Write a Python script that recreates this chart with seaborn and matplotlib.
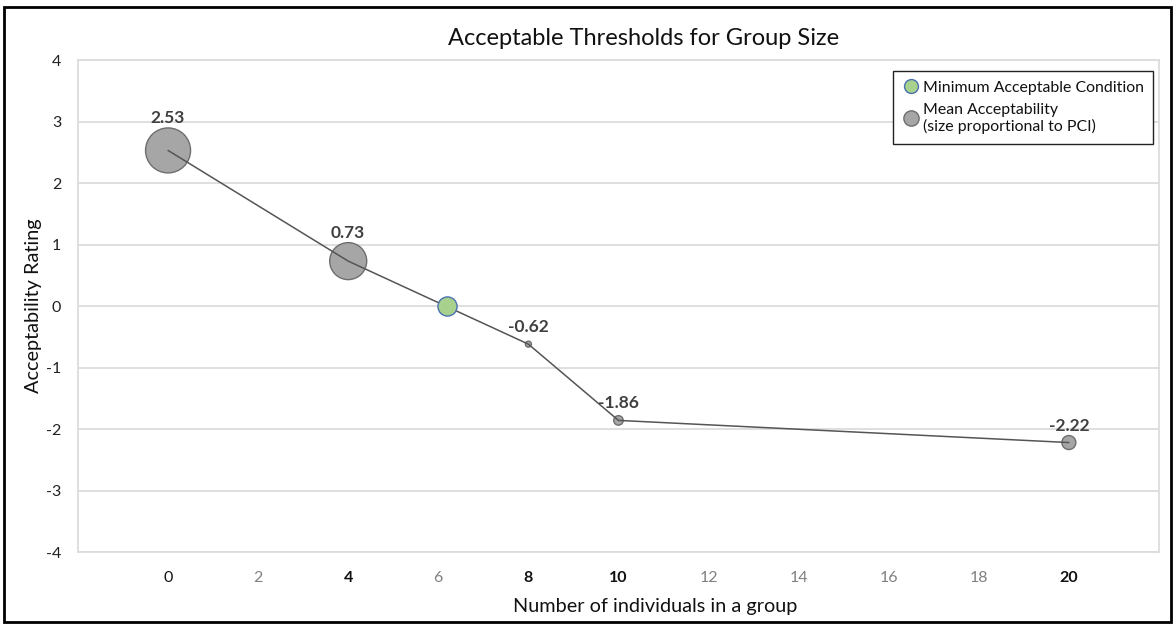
import numpy as np
import pandas as pd
import matplotlib
matplotlib.use("Agg")
import matplotlib.pyplot as plt
from matplotlib.lines import Line2D
from matplotlib.patches import Rectangle
import seaborn as sns

# Mean acceptability by group size, bubble size proportional to PCI
group_size = [0, 4, 8, 10, 20]
mean_rating = [2.53, 0.73, -0.62, -1.86, -2.22]
pci = [0.45, 0.37, 0.06, 0.095, 0.14]

# Point where the mean rating crosses zero
threshold_size = [6.2]
threshold_rating = [0.0]

x_ticks = [0, 2, 4, 6, 8, 10, 12, 14, 16, 18, 20]
y_ticks = [-4, -3, -2, -1, 0, 1, 2, 3, 4]

title = "Acceptable Thresholds for Group Size"
x_label = "Number of individuals in a group"
y_label = "Acceptability Rating"
legend_labels = ["Minimum Acceptable Condition",
                 "Mean Acceptability\n(size proportional to PCI)"]

sns.set_theme(style="white")
plt.rcParams["font.family"] = ["Lato", "DejaVu Sans"]

DPI = 100
fig = plt.figure(figsize=(11.76, 6.29), dpi=DPI)
ax = fig.add_axes([0.0663, 0.1224, 0.9192, 0.7822])

df = pd.DataFrame({"size": group_size, "rating": mean_rating, "pci": pci})
PT_PER_PCI = 72.0  # bubble diameter in points per unit of PCI
df["area"] = (df["pci"] * PT_PER_PCI) ** 2
amin, amax = df["area"].min(), df["area"].max()

bubble_face = "#a6a6a6"
bubble_edge = "#6e6e6e"
line_color = "#555555"

sns.scatterplot(data=df, x="size", y="rating", size="area",
                sizes=(amin, amax), size_norm=(amin, amax), legend=False,
                color=bubble_face, edgecolor=bubble_edge, linewidth=1.0,
                ax=ax, zorder=3)
sns.lineplot(data=df, x="size", y="rating", color=line_color, linewidth=1.1,
             ax=ax, zorder=4, sort=False)

thr = pd.DataFrame({"size": threshold_size, "rating": threshold_rating})
sns.scatterplot(data=thr, x="size", y="rating", s=190, color="#a9d18e",
                edgecolor="#4a72b0", linewidth=1.0, ax=ax, zorder=5,
                legend=False)

# Value labels above each bubble
for xv, yv, area in zip(df["size"], df["rating"], df["area"]):
    radius_pt = np.sqrt(area) / 2
    off = max(radius_pt, 5.0) + 7.2
    ax.annotate(f"{yv:.2f}", (xv, yv), xytext=(0, off),
                textcoords="offset points", ha="center", va="center",
                fontsize=12.5, fontweight="bold", color="#404040", zorder=6)

ax.set_xlim(-2, 22)
ax.set_ylim(-4, 4)
ax.set_xticks(x_ticks)
ax.set_xticklabels([str(t) for t in x_ticks])
ax.set_yticks(y_ticks)
ax.set_yticklabels([str(t) for t in y_ticks])

bold_ticks = {4, 8, 10, 20}
dark_ticks = {0, 4, 8, 10, 20}
for t, lab in zip(x_ticks, ax.get_xticklabels()):
    lab.set_fontweight("bold" if t in bold_ticks else "normal")
    lab.set_color("#111111" if t in dark_ticks else "#808080")
    lab.set_fontsize(11.5)
for lab in ax.get_yticklabels():
    lab.set_color("#222222")
    lab.set_fontsize(11.5)

ax.tick_params(axis="x", length=0, pad=14)
ax.tick_params(axis="y", length=0, pad=12)

ax.grid(axis="y", color="#dcdcdc", linewidth=1.3)
for sp in ax.spines.values():
    sp.set_visible(True)
    sp.set_color("#dcdcdc")
    sp.set_linewidth(1.3)

ax.set_xlabel(x_label, fontsize=14.3, color="#111111")
ax.set_ylabel(y_label, fontsize=14.3, color="#111111")
ax.xaxis.set_label_coords(0.534, -0.093)
ax.yaxis.set_label_coords(-0.033, 0.5)
ax.set_title(title, fontsize=17, color="#111111", x=0.523, pad=11)

handles = [
    Line2D([], [], marker="o", linestyle="none", markersize=10,
           markerfacecolor="#a9d18e", markeredgecolor="#4a72b0",
           markeredgewidth=1.0),
    Line2D([], [], marker="o", linestyle="none", markersize=11,
           markerfacecolor=bubble_face, markeredgecolor=bubble_edge,
           markeredgewidth=1.0),
]
leg = ax.legend(handles, legend_labels, loc="upper right",
                bbox_to_anchor=(0.9945, 0.9776), fontsize=11.4,
                frameon=True, fancybox=False, framealpha=1,
                edgecolor="#222222", borderpad=0.6, handletextpad=0.25,
                handlelength=1.0, labelspacing=0.5, borderaxespad=0)
leg.get_frame().set_linewidth(1.0)
for txt in leg.get_texts():
    txt.set_color("#111111")

# Outer frame around the whole chart
fig.patches.append(Rectangle((4 / 1176, 7 / 629), 1167 / 1176, 615 / 629,
                             transform=fig.transFigure, fill=False,
                             edgecolor="black", linewidth=2.0))

fig.savefig("out.png", dpi=DPI)
